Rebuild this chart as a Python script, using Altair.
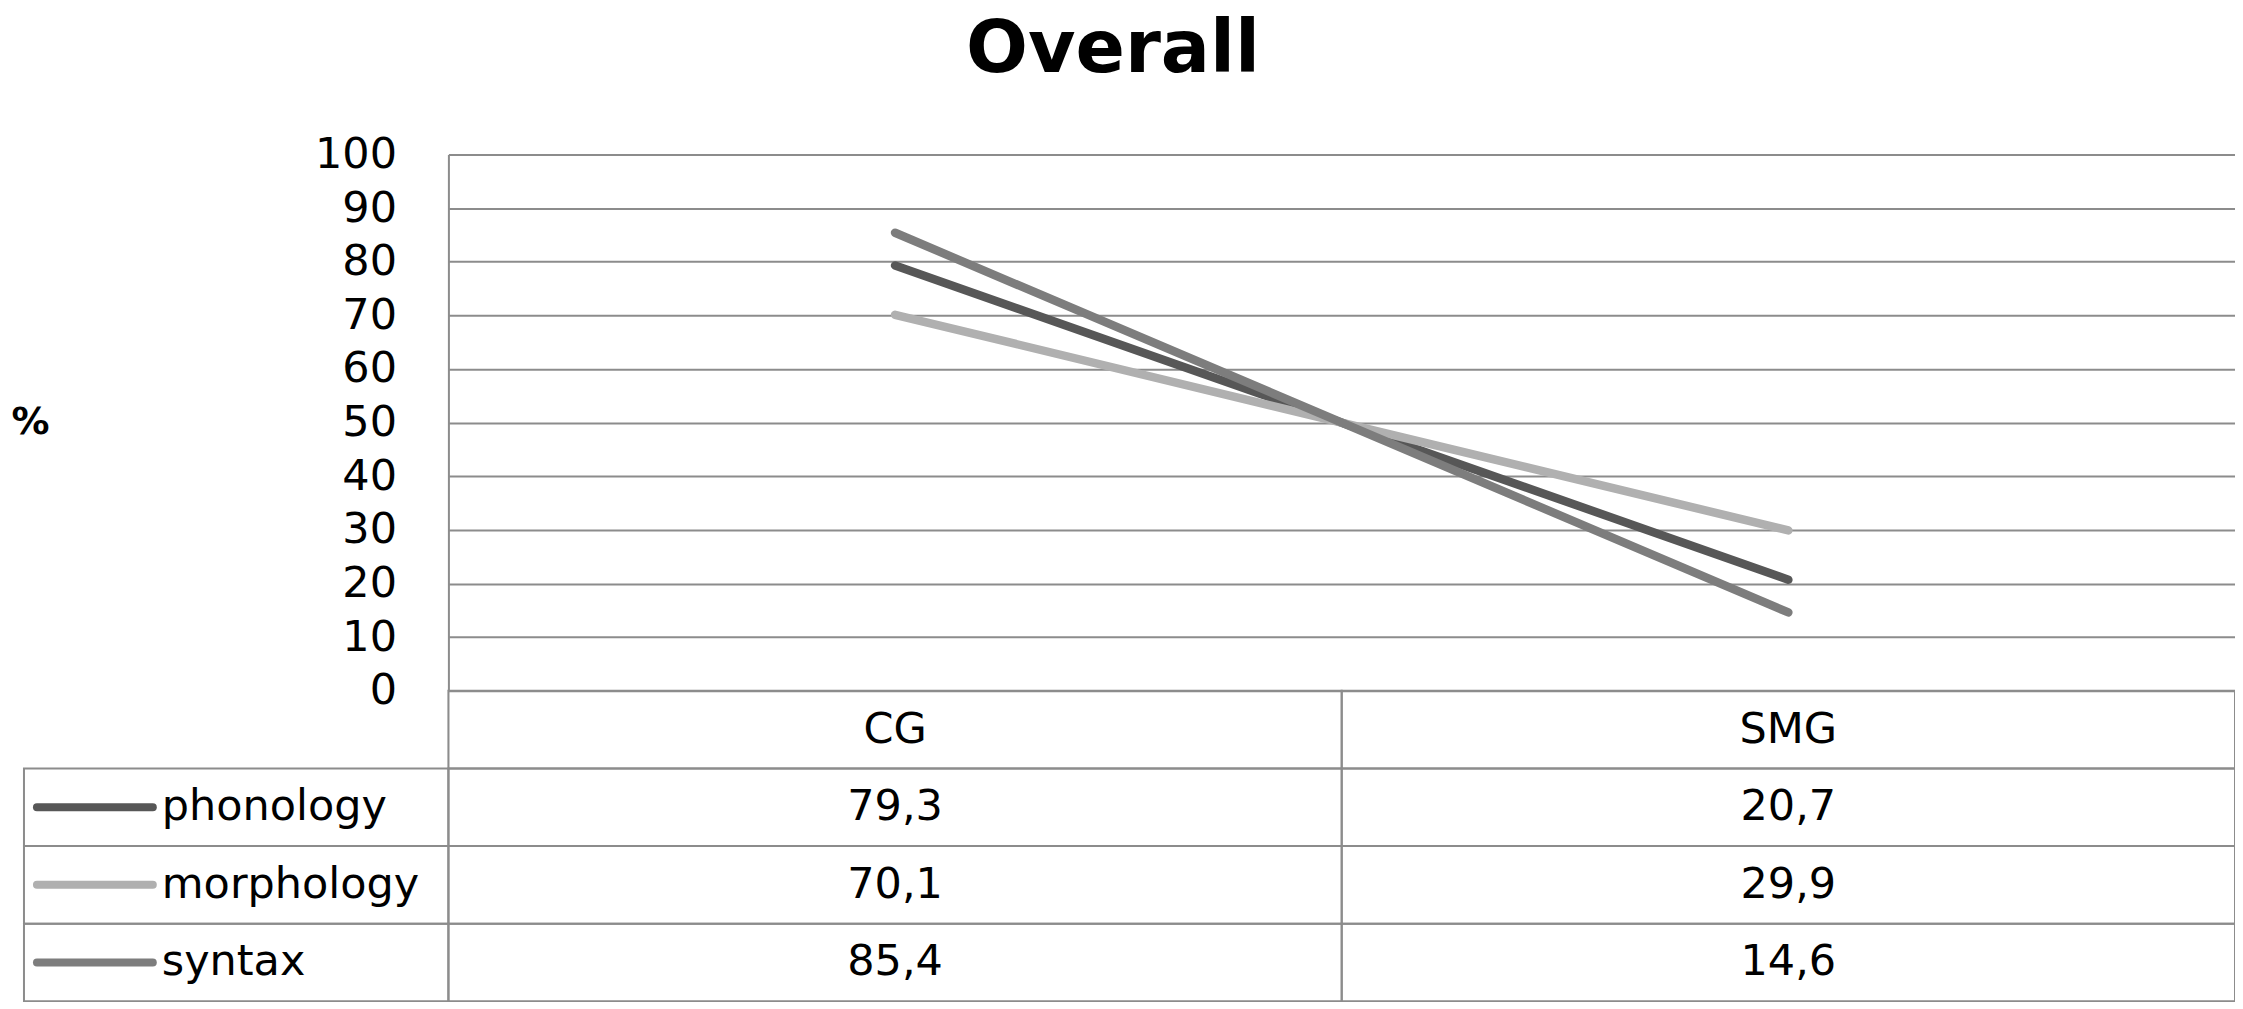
import altair as alt
import pandas as pd

# ---- data ----
categories = ["CG", "SMG"]
series = ["phonology", "morphology", "syntax"]
cg_values = [79.3, 70.1, 85.4]
smg_values = [20.7, 29.9, 14.6]
y_ticks = [0, 10, 20, 30, 40, 50, 60, 70, 80, 90, 100]
series_colors = ["#575757", "#b0b0b0", "#7d7d7d"]

FONT = "DejaVu Sans"
GRID = "#8c8c8c"

# long table for lines
rows = []
for s, a, b in zip(series, cg_values, smg_values):
    rows.append({"series": s, "group": categories[0], "value": a})
    rows.append({"series": s, "group": categories[1], "value": b})
df_lines = pd.DataFrame(rows)

# data table cells
cells = []
for c in categories:
    cells.append({"row": "header", "group": c, "text": c})
for s, a, b in zip(series, cg_values, smg_values):
    cells.append({"row": s, "group": categories[0], "text": f"{a:.1f}".replace(".", ",")})
    cells.append({"row": s, "group": categories[1], "text": f"{b:.1f}".replace(".", ",")})
df_cells = pd.DataFrame(cells)
df_series = pd.DataFrame({"row": series, "series": series})

row_domain = ["header"] + series

x_band = alt.Scale(type="band", domain=categories, paddingInner=0, paddingOuter=0)
y_rows = alt.Scale(type="band", domain=row_domain, range=[537, 848], paddingInner=0, paddingOuter=0)
color_scale = alt.Scale(domain=series, range=series_colors)

lines = alt.Chart(df_lines).mark_line(strokeWidth=8.5, strokeCap="round").encode(
    x=alt.X("group:N", scale=x_band, bandPosition=0.5, axis=None),
    y=alt.Y(
        "value:Q",
        scale=alt.Scale(domain=[0, 100], range=[537, 0]),
        axis=alt.Axis(
            values=y_ticks, grid=True, gridColor=GRID, gridWidth=2,
            domainColor=GRID, domainWidth=2, ticks=False, tickSize=0,
            labelPadding=52, labelFont=FONT, labelFontSize=43, labelColor="black",
            title="%", titleAngle=0, titleX=-419, titleY=268, titleAlign="center",
            titleBaseline="middle", titleFontSize=38, titleFontWeight="bold",
            titleFont=FONT, titleColor="black",
        ),
    ),
    color=alt.Color("series:N", scale=color_scale, legend=None),
)

cell_boxes = alt.Chart(df_cells).mark_rect(fillOpacity=0, stroke=GRID, strokeWidth=2).encode(
    x=alt.X("group:N", scale=x_band, axis=None),
    y=alt.Y("row:N", scale=y_rows, axis=None),
)

label_boxes = alt.Chart(df_series).mark_rect(fillOpacity=0, stroke=GRID, strokeWidth=2).encode(
    x=alt.value(-425),
    x2=alt.value(0),
    y=alt.Y("row:N", scale=y_rows, axis=None),
)

cell_text = alt.Chart(df_cells).mark_text(font=FONT, fontSize=43, color="black", baseline="middle").encode(
    x=alt.X("group:N", scale=x_band, bandPosition=0.5, axis=None),
    y=alt.Y("row:N", scale=y_rows, bandPosition=0.5, axis=None),
    text="text:N",
)

swatches = alt.Chart(df_series).mark_rule(strokeWidth=8, strokeCap="round").encode(
    x=alt.value(-412),
    x2=alt.value(-296),
    y=alt.Y("row:N", scale=y_rows, bandPosition=0.5, axis=None),
    color=alt.Color("series:N", scale=color_scale, legend=None),
)

series_text = alt.Chart(df_series).mark_text(font=FONT, fontSize=43, color="black", align="left", baseline="middle").encode(
    x=alt.value(-287),
    y=alt.Y("row:N", scale=y_rows, bandPosition=0.5, axis=None),
    text="series:N",
)

chart = alt.layer(
    cell_boxes, label_boxes, lines, cell_text, swatches, series_text
).resolve_scale(y="independent").properties(
    width=1789,
    height=848,
    autosize=alt.AutoSizeParams(type="none"),
    padding={"left": 441, "top": 146, "right": 0, "bottom": 0},
    title=alt.Title(
        "Overall", fontSize=73, font=FONT, fontWeight="bold", anchor="middle",
        frame="group", dx=-229, baseline="alphabetic", offset=-11, color="black",
    ),
).configure_view(stroke=None).configure(background="white")

chart.save("out.html", embed_options={"renderer": "svg", "actions": False})
